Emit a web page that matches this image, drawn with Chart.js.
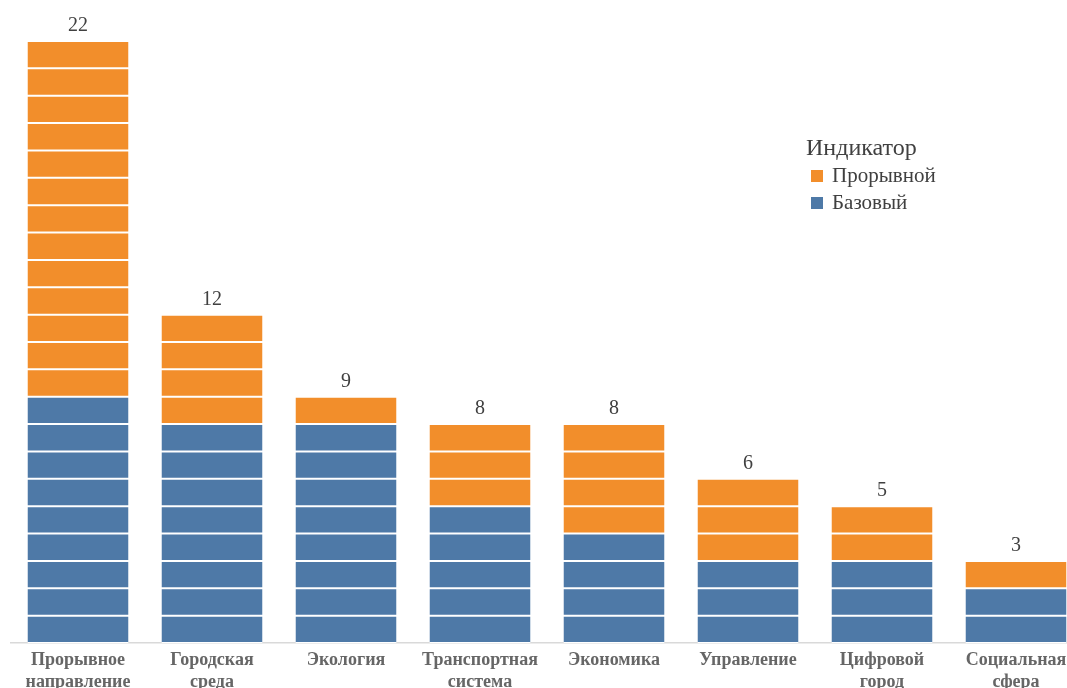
<!DOCTYPE html>
<html>
<head>
<meta charset="utf-8">
<script src="https://cdn.jsdelivr.net/npm/chart.js@4/dist/chart.umd.min.js"></script>
<style>
  html, body { margin:0; padding:0; background:#fff; }
  #wrap { position:relative; width:1067px; height:688px; overflow:hidden; }
  #box { position:absolute; left:0; top:0; width:1083px; height:688px; }
  #leg { position:absolute; left:806px; top:133px; font-family:'Liberation Serif',serif; color:#404040; }
  #leg .t { font-size:24px; line-height:29px; }
  #leg .i { font-size:21px; line-height:27px; padding-left:5px; display:flex; align-items:center; }
  #leg .sw { width:12px; height:12px; margin-right:9px; display:inline-block; }
</style>
</head>
<body>
<div id="wrap">
  <div id="box"><canvas id="c"></canvas></div>
  <div id="leg">
    <div class="t">Индикатор</div>
    <div class="i"><span class="sw" style="background:#F28E2B"></span>Прорывной</div>
    <div class="i"><span class="sw" style="background:#4E79A7"></span>Базовый</div>
  </div>
</div>
<script>
'use strict';

/* ── DATA ────────────────────────────────────────────────── */
const CATEGORIES = [
  ['Прорывное','направление'], ['Городская','среда'], 'Экология', ['Транспортная','система'],
  'Экономика', 'Управление', ['Цифровой','город'], ['Социальная','сфера']
];
const BASE   = [9, 8, 8, 5, 4, 3, 3, 2];   // Базовый
const BREAK  = [13, 4, 1, 3, 4, 3, 2, 1];  // Прорывной
const TOTALS = BASE.map((b,i)=>b+BREAK[i]);

const BLUE = '#4E79A7', ORANGE = '#F28E2B';

/* ── one dataset per unit level so each unit is its own block ── */
function levels(arr, color, name) {
  const max = Math.max(...arr);
  return Array.from({length:max}, (_,k)=>({
    label: name,
    data: arr.map(v => v > k ? 1 : null),
    backgroundColor: color,
    borderColor: '#ffffff',
    borderWidth: { top:1, bottom:1, left:0, right:0 },
    borderSkipped: false,
    stack: 's',
    barPercentage: 1,
    categoryPercentage: 0.754
  }));
}

const totalsPlugin = {
  id: 'totals',
  afterDatasetsDraw(chart) {
    const { ctx, scales:{ x, y } } = chart;
    ctx.save();
    ctx.font = "20px 'Liberation Serif', serif";
    ctx.fillStyle = '#404040';
    ctx.textAlign = 'center';
    ctx.textBaseline = 'bottom';
    TOTALS.forEach((t,i)=>{
      ctx.fillText(String(t), x.getPixelForValue(i), y.getPixelForValue(t) - 5);
    });
    ctx.restore();
  }
};

new Chart(document.getElementById('c'), {
  type: 'bar',
  data: {
    labels: CATEGORIES,
    datasets: [...levels(BASE, BLUE, 'Базовый'), ...levels(BREAK, ORANGE, 'Прорывной')]
  },
  options: {
    responsive: true, maintainAspectRatio: false, animation: false,
    layout: { padding: { left: 11, right: 0, top: 41, bottom: 0 } },
    plugins: { legend: { display:false }, tooltip: { enabled:false } },
    scales: {
      x: {
        stacked: true,
        grid: { display:false },
        border: { display:true, color:'#d9d9d9', width:1.5 },
        ticks: {
          color:'#666666', padding:-1, maxRotation:0, autoSkip:false,
          font: { family:"'Liberation Serif', serif", size:18, weight:'bold', lineHeight:1.2 }
        },
        afterFit: s => { s.height = 45; }
      },
      y: { stacked:true, display:false, min:0, max:22 }
    }
  },
  plugins: [totalsPlugin]
});
</script>
</body>
</html>
